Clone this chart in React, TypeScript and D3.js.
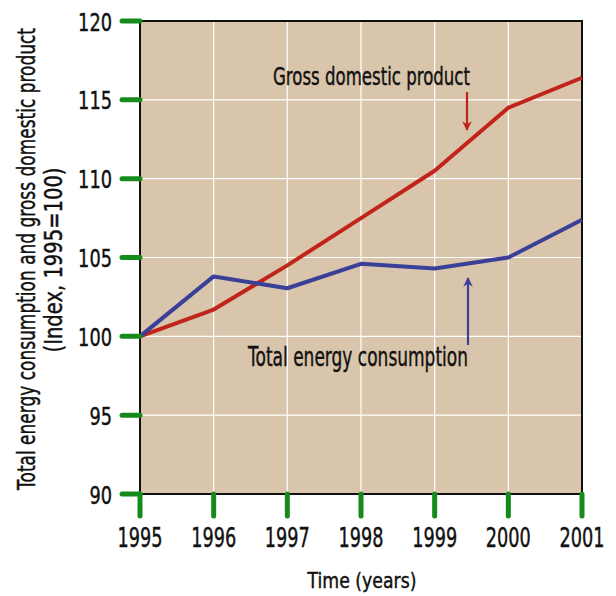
import React from "react";
import * as d3 from "d3";

const years = [1995, 1996, 1997, 1998, 1999, 2000, 2001];
const gdp = [100, 101.7, 104.5, 107.5, 110.5, 114.5, 116.4];
const energy = [100, 103.8, 103.05, 104.6, 104.3, 105.0, 107.4];
const yTicks = [90, 95, 100, 105, 110, 115, 120];

const W = 616, H = 596;
const L = 140, R = 582, T = 21, B = 494;
const FONT = "'DejaVu Sans', sans-serif";

export default function App() {
  const x = d3.scaleLinear().domain([1995, 2001]).range([L, R]);
  const y = d3.scaleLinear().domain([90, 120]).range([B, T]);
  const line = d3.line<number>().x((_, i) => x(years[i])).y((d) => y(d));
  const green = "#178a1c";
  const txt = "#111";
  const heavy = { stroke: "#111", strokeWidth: 0.45 };
  return (
    <svg width={W} height={H} style={{ position: "absolute", left: 0, top: 0 }} fontFamily={FONT}>
      <defs>
        <marker id="ar" viewBox="0 0 10 10" refX="9" refY="5" markerWidth="4.4" markerHeight="4.4" orient="auto">
          <path d="M0,0 L10,5 L0,10 L3,5 z" fill="#c0241a" />
        </marker>
        <marker id="ab" viewBox="0 0 10 10" refX="9" refY="5" markerWidth="4.4" markerHeight="4.4" orient="auto">
          <path d="M0,0 L10,5 L0,10 L3,5 z" fill="#3a3f98" />
        </marker>
      </defs>
      <rect x={L} y={T} width={R - L} height={B - T} fill="#d9c5ab" />
      {years.map((yr) => (
        <line key={"gx" + yr} x1={x(yr)} x2={x(yr)} y1={T} y2={B} stroke="#fff" strokeWidth={1.2} />
      ))}
      {yTicks.map((v) => (
        <line key={"gy" + v} x1={L} x2={R} y1={y(v)} y2={y(v)} stroke="#fff" strokeWidth={1.2} />
      ))}
      <rect x={L} y={T} width={R - L} height={B - T} fill="none" stroke="#111" strokeWidth={2} />
      <path d={line(gdp) || ""} fill="none" stroke="#c0241a" strokeWidth={4} strokeLinejoin="round" />
      <path d={line(energy) || ""} fill="none" stroke="#3a3f98" strokeWidth={4} strokeLinejoin="round" />
      {yTicks.map((v) => (
        <g key={"ty" + v}>
          <line x1={122} x2={L} y1={y(v)} y2={y(v)} stroke={green} strokeWidth={5} strokeLinecap="round" />
          <text x={112} y={y(v) + 9.5} textAnchor="end" fontSize={25} fill={txt} {...heavy}
            textLength={String(v).length * 11.3} lengthAdjust="spacingAndGlyphs">{v}</text>
        </g>
      ))}
      {years.map((yr) => (
        <g key={"tx" + yr}>
          <line x1={x(yr)} x2={x(yr)} y1={B} y2={516} stroke={green} strokeWidth={5} strokeLinecap="round" />
          <text x={x(yr)} y={547} textAnchor="middle" fontSize={27} fill={txt} {...heavy}
            textLength={45} lengthAdjust="spacingAndGlyphs">{yr}</text>
        </g>
      ))}
      <text x={362} y={588} textAnchor="middle" fontSize={21} fill={txt} {...heavy}
        textLength={109} lengthAdjust="spacingAndGlyphs">Time (years)</text>
      <text transform="translate(35,259) rotate(-90)" textAnchor="middle" fontSize={25} fill={txt} {...heavy}
        textLength={462} lengthAdjust="spacingAndGlyphs">
        Total energy consumption and gross domestic product
      </text>
      <text transform="translate(62,260) rotate(-90)" textAnchor="middle" fontSize={25} fill={txt} {...heavy}
        textLength={185} lengthAdjust="spacingAndGlyphs">
        (Index, 1995=100)
      </text>
      <text x={371.5} y={85} textAnchor="middle" fontSize={25} fill={txt} {...heavy}
        textLength={197} lengthAdjust="spacingAndGlyphs">Gross domestic product</text>
      <line x1={467} x2={467} y1={92} y2={130} stroke="#c0241a" strokeWidth={2.2} markerEnd="url(#ar)" />
      <text x={358} y={366} textAnchor="middle" fontSize={26} fill={txt} {...heavy}
        textLength={220} lengthAdjust="spacingAndGlyphs">Total energy consumption</text>
      <line x1={468} x2={468} y1={345} y2={278} stroke="#3a3f98" strokeWidth={2.2} markerEnd="url(#ab)" />
    </svg>
  );
}
